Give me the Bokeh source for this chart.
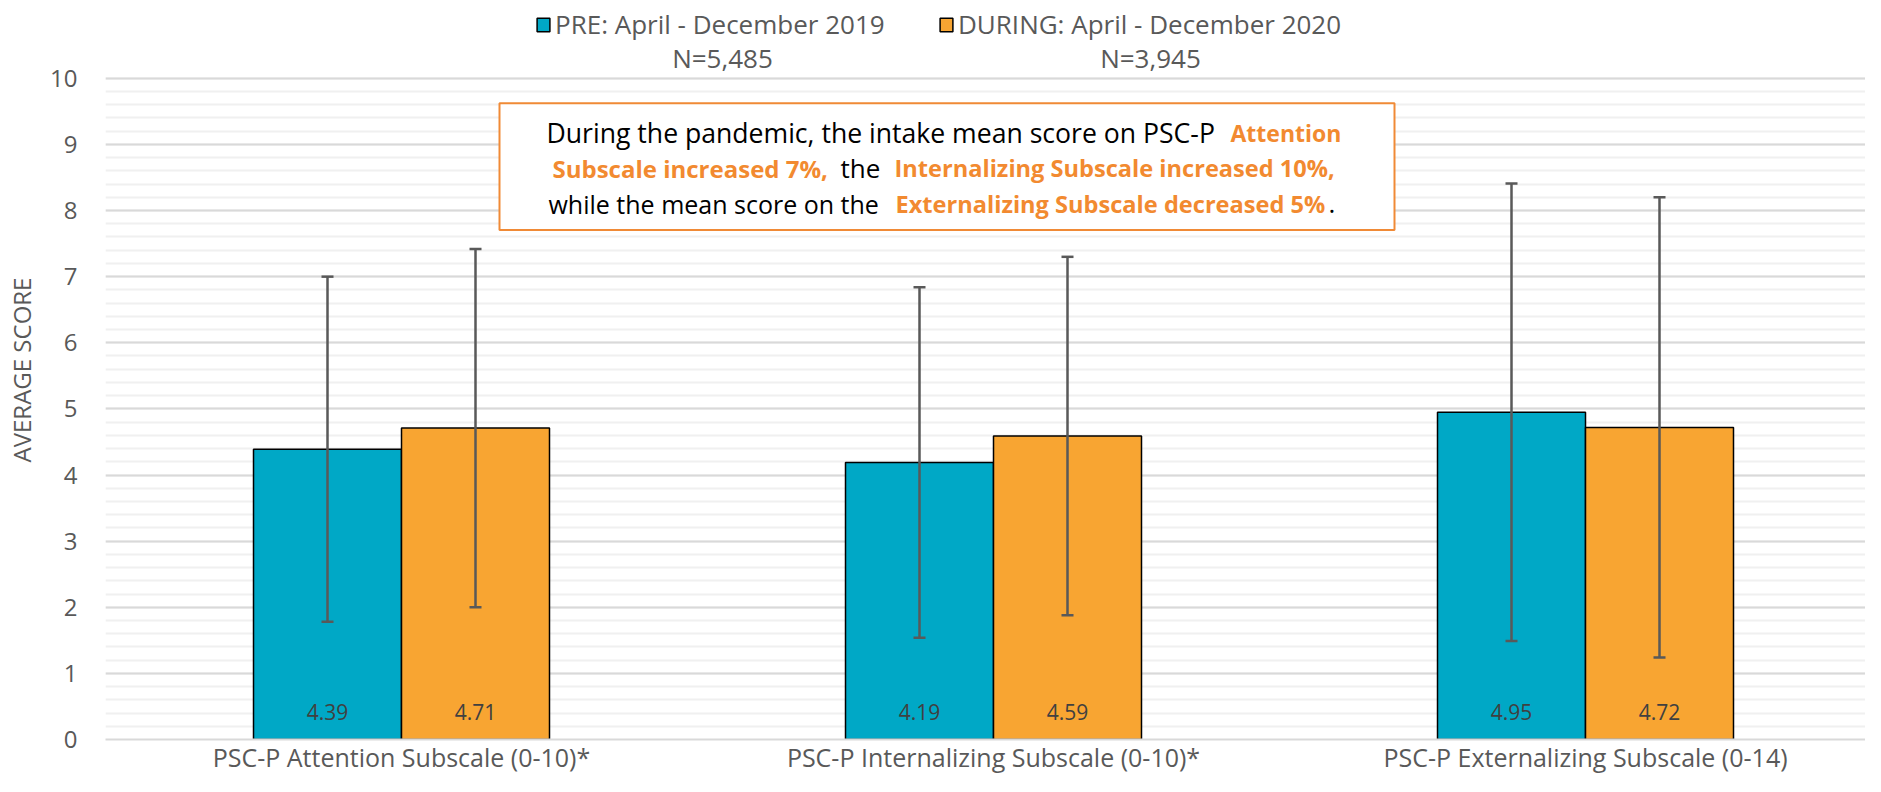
from bokeh.plotting import figure
from bokeh.models import (Range1d, FixedTicker, Legend, LegendItem,
                          Whisker, ColumnDataSource, Label, BoxAnnotation, LabelSet)
from bokeh.core.properties import value
from bokeh.embed import file_html
from bokeh.resources import INLINE

# ---------------- data ----------------
categories = ["PSC-P Attention Subscale (0-10)*",
              "PSC-P Internalizing Subscale (0-10)*",
              "PSC-P Externalizing Subscale (0-14)"]
pre_mean = [4.39, 4.19, 4.95]
pre_sd = [2.61, 2.65, 3.46]
during_mean = [4.71, 4.59, 4.72]
during_sd = [2.71, 2.71, 3.48]
series_names = ["PRE: April - December 2019", "DURING: April - December 2020"]
series_n = ["N=5,485", "N=3,945"]
y_ticks = list(range(0, 11))

# ---------------- style ----------------
FONT = "Open Sans"
BLUE = "#00A8C6"
ORANGE = "#F8A532"
TXT_ORANGE = "#F28A30"
GREY = "#595959"

W, H = 1865, 776
LEFT = 105
PLOT_TOP = 78          # pixel row of the value 10 gridline
PLOT_BOTTOM = 741      # pixel row of the value 0 gridline
PX_PER_CAT = 592.0
px_per_unit = (PLOT_BOTTOM - PLOT_TOP) / 10.0
frame_w = W - LEFT
x_end = -0.5 + frame_w / PX_PER_CAT
y_end = 10 + PLOT_TOP / px_per_unit

p = figure(width=W, height=H, output_backend="svg", toolbar_location=None,
           x_range=Range1d(-0.5, x_end), y_range=Range1d(0, y_end),
           min_border_left=LEFT, min_border_right=0, min_border_top=0,
           min_border_bottom=H - PLOT_BOTTOM)
p.outline_line_color = None
p.background_fill_color = "white"

# grids
p.xgrid.grid_line_color = None
p.yaxis.ticker = FixedTicker(ticks=y_ticks, minor_ticks=[i / 5 for i in range(51)])
p.ygrid.grid_line_color = "#D9D9D9"
p.ygrid.grid_line_width = 2
p.ygrid.minor_grid_line_color = "#F0F0F0"
p.ygrid.minor_grid_line_width = 2

# axes
p.yaxis.axis_line_color = None
p.yaxis.major_tick_line_color = None
p.yaxis.minor_tick_line_color = None
p.yaxis.major_tick_out = 0
p.yaxis.minor_tick_out = 0
p.yaxis.major_label_text_font = FONT
p.yaxis.major_label_text_font_size = "24px"
p.yaxis.major_label_text_color = GREY
p.yaxis.major_label_standoff = 28
p.yaxis.axis_label = "AVERAGE SCORE"
p.yaxis.axis_label_text_font = FONT
p.yaxis.axis_label_text_font_size = "24px"
p.yaxis.axis_label_text_font_style = "normal"
p.yaxis.axis_label_text_color = GREY
p.yaxis.axis_label_standoff = 9

xs = list(range(len(categories)))
p.xaxis.ticker = FixedTicker(ticks=xs)
p.xaxis.major_label_overrides = {i: c for i, c in enumerate(categories)}
p.xaxis.axis_line_color = "#D9D9D9"
p.xaxis.axis_line_width = 2
p.xaxis.major_tick_line_color = None
p.xaxis.minor_tick_line_color = None
p.xaxis.major_tick_out = 0
p.xaxis.minor_tick_out = 0
p.xaxis.major_label_text_font = FONT
p.xaxis.major_label_text_font_size = "25px"
p.xaxis.major_label_text_color = GREY
p.xaxis.major_label_standoff = 0

# bars
off = 0.125
bw = 0.25
src_pre = ColumnDataSource(dict(
    x=[i - off for i in xs], top=pre_mean,
    upper=[m + s for m, s in zip(pre_mean, pre_sd)],
    lower=[m - s for m, s in zip(pre_mean, pre_sd)],
    lab=[f"{m:.2f}" for m in pre_mean], ly=[0.42] * len(xs)))
src_dur = ColumnDataSource(dict(
    x=[i + off for i in xs], top=during_mean,
    upper=[m + s for m, s in zip(during_mean, during_sd)],
    lower=[m - s for m, s in zip(during_mean, during_sd)],
    lab=[f"{m:.2f}" for m in during_mean], ly=[0.42] * len(xs)))

r_pre = p.vbar(x="x", top="top", width=bw, source=src_pre, fill_color=BLUE,
               line_color="black", line_width=1.5)
r_dur = p.vbar(x="x", top="top", width=bw, source=src_dur, fill_color=ORANGE,
               line_color="black", line_width=1.5)

for src in (src_pre, src_dur):
    wk = Whisker(base="x", upper="upper", lower="lower", source=src,
                 line_color=GREY, line_width=2.5, level="overlay")
    for head in (wk.upper_head, wk.lower_head):
        head.size = 12
        head.line_color = GREY
        head.line_width = 2.5
    p.add_layout(wk)
    ls = LabelSet(x="x", y="ly", text="lab", source=src, text_align="center",
                  text_baseline="middle", text_font=value(FONT),
                  text_font_size=value("21px"), text_color="#404040")
    p.add_layout(ls)


def px2x(px):
    return -0.5 + (px - LEFT) / PX_PER_CAT


def py2y(py):
    return (PLOT_BOTTOM - py) / px_per_unit


# legend (one per series so each swatch sits where the reference has it)
for name, rend, sx in zip(series_names, (r_pre, r_dur), (535, 938)):
    lg = Legend(items=[LegendItem(label=name, renderers=[rend])],
                orientation="horizontal", location=(sx - LEFT, PLOT_BOTTOM - 44),
                border_line_color=None, background_fill_alpha=0,
                glyph_width=16, glyph_height=17, label_standoff=4,
                label_text_font=FONT, label_text_font_size="26px",
                label_text_color=GREY, padding=0, margin=0)
    p.add_layout(lg, "center")

for txt, cx in zip(series_n, (722, 1150)):
    p.add_layout(Label(x=px2x(cx), y=py2y(58), text=txt, text_align="center",
                       text_baseline="middle", text_font=FONT,
                       text_font_size="26px", text_color=GREY))

# annotation box
box = BoxAnnotation(left=px2x(499), right=px2x(1394), top=py2y(103), bottom=py2y(230),
                    fill_color="white", fill_alpha=1.0, line_color="#F08A36",
                    line_alpha=1.0, line_width=2, level="overlay")
p.add_layout(box)

segments = [
    ("During the pandemic, the intake mean score on PSC-P", 546, 133, "black", "normal", "26.6px"),
    ("Attention", 1230, 133, TXT_ORANGE, "bold", "23px"),
    ("Subscale increased 7%,", 552, 168, TXT_ORANGE, "bold", "24px"),
    ("the", 840, 168, "black", "normal", "26px"),
    ("Internalizing Subscale increased 10%,", 894, 168, TXT_ORANGE, "bold", "23.6px"),
    ("while the mean score on the", 548, 204, "black", "normal", "25px"),
    ("Externalizing Subscale decreased 5%", 895, 204, TXT_ORANGE, "bold", "23.6px"),
    (".", 1328, 204, "black", "normal", "26px"),
]
for txt, sx, sy, col, sty, fs in segments:
    p.add_layout(Label(x=px2x(sx), y=py2y(sy), text=txt, text_align="left",
                       text_baseline="middle", text_font=FONT,
                       text_font_size=fs, text_color=col,
                       text_font_style=sty, level="overlay"))

open("out.html", "w").write(file_html(p, INLINE))
